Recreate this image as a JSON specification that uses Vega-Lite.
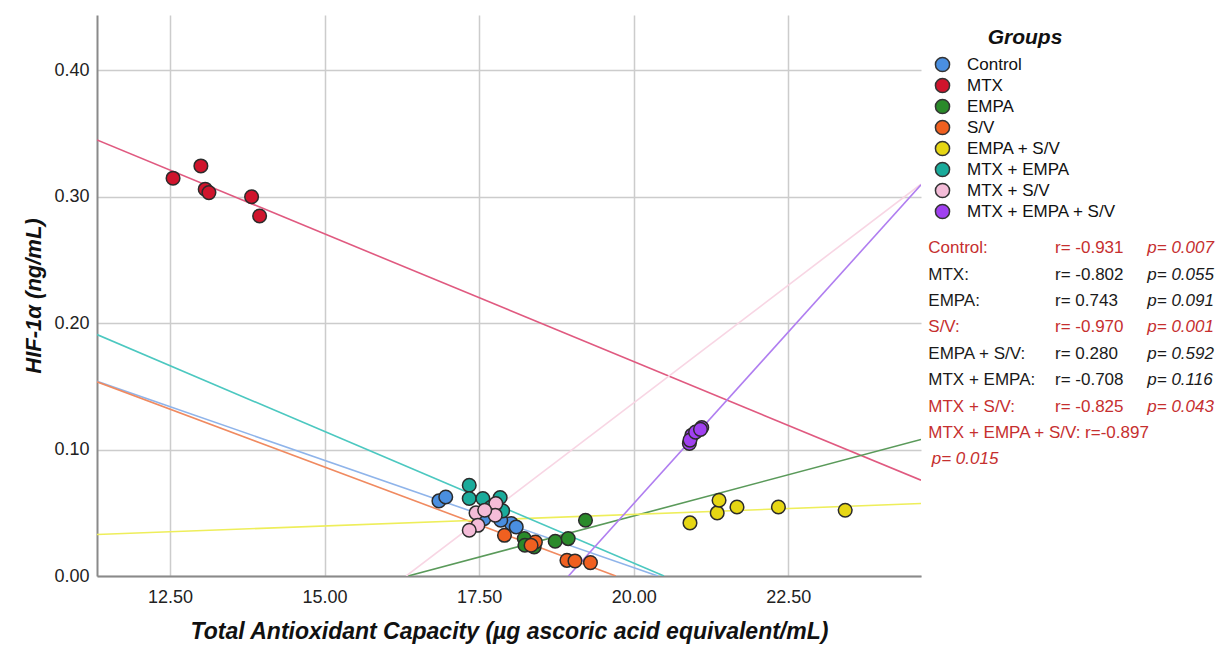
{
  "$schema": "https://vega.github.io/schema/vega-lite/v6.json",
  "width": 824,
  "height": 561,
  "autosize": "none",
  "padding": {"left": 97, "top": 15, "right": 305, "bottom": 79},
  "background": "white",
  "config": {
    "font": "Liberation Sans",
    "view": {"stroke": null},
    "axis": {
      "ticks": false,
      "grid": true,
      "gridColor": "#cccccc",
      "gridWidth": 1.5,
      "domainColor": "#8a8a8a",
      "domainWidth": 2,
      "labelFontSize": 18,
      "labelColor": "#222222",
      "titleFontSize": 22,
      "titleFontWeight": "bold",
      "titleFontStyle": "italic",
      "titleColor": "#111111"
    }
  },
  "datasets": {
    "points": [
      {"group": "Control", "tac": 16.85, "hif": 0.0594},
      {"group": "Control", "tac": 16.96, "hif": 0.0625},
      {"group": "Control", "tac": 17.58, "hif": 0.0454},
      {"group": "Control", "tac": 18.02, "hif": 0.0415},
      {"group": "Control", "tac": 18.10, "hif": 0.0388},
      {"group": "Control", "tac": 17.85, "hif": 0.0441},
      {"group": "MTX", "tac": 12.55, "hif": 0.3147},
      {"group": "MTX", "tac": 13.00, "hif": 0.3244},
      {"group": "MTX", "tac": 13.07, "hif": 0.3060},
      {"group": "MTX", "tac": 13.13, "hif": 0.3033},
      {"group": "MTX", "tac": 13.82, "hif": 0.3000},
      {"group": "MTX", "tac": 13.95, "hif": 0.2848},
      {"group": "EMPA", "tac": 19.22, "hif": 0.0441},
      {"group": "EMPA", "tac": 18.23, "hif": 0.0296},
      {"group": "EMPA", "tac": 18.24, "hif": 0.0243},
      {"group": "EMPA", "tac": 18.39, "hif": 0.0230},
      {"group": "EMPA", "tac": 18.73, "hif": 0.0275},
      {"group": "EMPA", "tac": 18.94, "hif": 0.0296},
      {"group": "S/V", "tac": 17.91, "hif": 0.0322},
      {"group": "S/V", "tac": 18.41, "hif": 0.0269},
      {"group": "S/V", "tac": 18.92, "hif": 0.0124},
      {"group": "S/V", "tac": 19.05, "hif": 0.0119},
      {"group": "S/V", "tac": 19.30, "hif": 0.0106},
      {"group": "S/V", "tac": 18.34, "hif": 0.0243},
      {"group": "EMPA + S/V", "tac": 20.91, "hif": 0.0420},
      {"group": "EMPA + S/V", "tac": 21.35, "hif": 0.0499},
      {"group": "EMPA + S/V", "tac": 21.38, "hif": 0.0599},
      {"group": "EMPA + S/V", "tac": 21.67, "hif": 0.0546},
      {"group": "EMPA + S/V", "tac": 22.34, "hif": 0.0546},
      {"group": "EMPA + S/V", "tac": 23.42, "hif": 0.0520},
      {"group": "MTX + EMPA", "tac": 17.34, "hif": 0.0718},
      {"group": "MTX + EMPA", "tac": 17.34, "hif": 0.0613},
      {"group": "MTX + EMPA", "tac": 17.56, "hif": 0.0613},
      {"group": "MTX + EMPA", "tac": 17.84, "hif": 0.0621},
      {"group": "MTX + EMPA", "tac": 17.88, "hif": 0.0515},
      {"group": "MTX + EMPA", "tac": 17.69, "hif": 0.0544},
      {"group": "MTX + S/V", "tac": 17.77, "hif": 0.0573},
      {"group": "MTX + S/V", "tac": 17.45, "hif": 0.0499},
      {"group": "MTX + S/V", "tac": 17.76, "hif": 0.0481},
      {"group": "MTX + S/V", "tac": 17.48, "hif": 0.0401},
      {"group": "MTX + S/V", "tac": 17.34, "hif": 0.0362},
      {"group": "MTX + S/V", "tac": 17.59, "hif": 0.0520},
      {"group": "MTX + EMPA + S/V", "tac": 20.90, "hif": 0.1048},
      {"group": "MTX + EMPA + S/V", "tac": 20.94, "hif": 0.1114},
      {"group": "MTX + EMPA + S/V", "tac": 21.10, "hif": 0.1175},
      {"group": "MTX + EMPA + S/V", "tac": 20.91, "hif": 0.1075},
      {"group": "MTX + EMPA + S/V", "tac": 21.00, "hif": 0.1138},
      {"group": "MTX + EMPA + S/V", "tac": 21.08, "hif": 0.1160}
    ],
    "fits": [
      {"group": "Control", "x1": 11.32, "y1": 0.154, "x2": 20.39, "y2": 0.0},
      {"group": "MTX", "x1": 11.32, "y1": 0.345, "x2": 24.646, "y2": 0.0758},
      {"group": "EMPA", "x1": 16.35, "y1": 0.0, "x2": 24.646, "y2": 0.108},
      {"group": "S/V", "x1": 11.32, "y1": 0.1536, "x2": 19.71, "y2": 0.0},
      {"group": "EMPA + S/V", "x1": 11.32, "y1": 0.0328, "x2": 24.646, "y2": 0.0573},
      {"group": "MTX + EMPA", "x1": 11.32, "y1": 0.191, "x2": 20.49, "y2": 0.0},
      {"group": "MTX + S/V", "x1": 16.32, "y1": 0.0, "x2": 24.646, "y2": 0.310},
      {"group": "MTX + EMPA + S/V", "x1": 18.945, "y1": 0.0, "x2": 24.646, "y2": 0.3095}
    ],
    "stats": [
      {"row": 1, "label": "Control:", "r": "r= -0.931", "p": "p= 0.007", "pw": "", "sig": true},
      {"row": 2, "label": "MTX:", "r": "r= -0.802", "p": "p= 0.055", "pw": "", "sig": false},
      {"row": 3, "label": "EMPA:", "r": " r= 0.743", "p": "p= 0.091", "pw": "", "sig": false},
      {"row": 4, "label": "S/V:", "r": "r= -0.970", "p": "p= 0.001", "pw": "", "sig": true},
      {"row": 5, "label": "EMPA + S/V:", "r": "r= 0.280", "p": "p= 0.592", "pw": "", "sig": false},
      {"row": 6, "label": "MTX + EMPA:", "r": "r= -0.708", "p": "p= 0.116", "pw": "", "sig": false},
      {"row": 7, "label": "MTX + S/V:", "r": "r= -0.825", "p": "p= 0.043", "pw": "", "sig": true},
      {"row": 8, "label": "MTX + EMPA + S/V: r=-0.897", "r": "", "p": "", "pw": "", "sig": true},
      {"row": 9, "label": "", "r": "", "p": "", "pw": "p= 0.015", "sig": true}
    ]
  },
  "layer": [
    {
      "layer": [
        {
          "data": {"name": "fits"},
          "mark": {"type": "rule", "clip": true, "strokeWidth": 1.6},
          "encoding": {
            "x": {
              "field": "x1", "type": "quantitative",
              "scale": {"domain": [11.32, 24.646], "nice": false, "zero": false},
              "axis": {
                "values": [12.5, 15, 17.5, 20, 22.5],
                "format": ".2f",
                "labelPadding": 12,
                "titlePadding": 14,
                "titleFontSize": 23,
                "title": "Total Antioxidant Capacity (µg ascoric acid equivalent/mL)"
              }
            },
            "y": {
              "field": "y1", "type": "quantitative",
              "scale": {"domain": [0, 0.4438], "nice": false, "zero": false},
              "axis": {
                "values": [0, 0.1, 0.2, 0.3, 0.4],
                "format": ".2f",
                "labelPadding": 8,
                "titlePadding": 8,
                "title": "HIF-1α (ng/mL)"
              }
            },
            "x2": {"field": "x2"},
            "y2": {"field": "y2"},
            "stroke": {
              "field": "group", "type": "nominal",
              "scale": {
                "range": ["#8fb4ea", "#5a9a5a", "#eeee5a", "#e05a80", "#4cc8c0", "#b07ef0", "#f8d6e4", "#f08a60"]
              },
              "legend": null
            }
          }
        },
        {
          "data": {"name": "points"},
          "mark": {"type": "circle", "size": 185, "stroke": "#2b2b2b", "strokeWidth": 1.5, "opacity": 1},
          "encoding": {
            "x": {"field": "tac", "type": "quantitative"},
            "y": {"field": "hif", "type": "quantitative"},
            "color": {
              "field": "group", "type": "nominal",
              "scale": {
                "domain": ["Control", "MTX", "EMPA", "S/V", "EMPA + S/V", "MTX + EMPA", "MTX + S/V", "MTX + EMPA + S/V"],
                "range": ["#4a8fe0", "#d0142c", "#2a8a2a", "#f06020", "#e6d614", "#1aab9b", "#f4bcd8", "#a040f0"]
              },
              "legend": {
                "title": "Groups",
                "orient": "none",
                "legendX": 837,
                "legendY": 12,
                "padding": 0,
                "titleFontSize": 21,
                "titleFontWeight": "bold",
                "titleFontStyle": "italic",
                "titleColor": "#111111",
                "titleAnchor": "middle",
                "titlePadding": 8,
                "labelFontSize": 17,
                "labelColor": "#111111",
                "labelOffset": 16,
                "symbolType": "circle",
                "symbolSize": 200,
                "symbolStrokeColor": "#333333",
                "symbolStrokeWidth": 1.5,
                "symbolOpacity": 1,
                "rowPadding": 0
              }
            }
          }
        }
      ]
    },
    {
      "data": {"name": "stats"},
      "encoding": {
        "y": {
          "field": "row", "type": "ordinal",
          "scale": {"type": "point", "range": [233.3, 444.3], "padding": 0},
          "axis": null
        }
      },
      "layer": [
        {
          "mark": {"type": "text", "align": "left", "baseline": "middle", "fontSize": 17},
          "encoding": {
            "x": {"datum": 24.764, "type": "quantitative"},
            "text": {"field": "label"},
            "fill": {"condition": {"test": "datum.sig", "value": "#c62f2f"}, "value": "#1a1a1a"}
          }
        },
        {
          "mark": {"type": "text", "align": "left", "baseline": "middle", "fontSize": 17},
          "encoding": {
            "x": {"datum": 26.813, "type": "quantitative"},
            "text": {"field": "r"},
            "fill": {"condition": {"test": "datum.sig", "value": "#c62f2f"}, "value": "#1a1a1a"}
          }
        },
        {
          "mark": {"type": "text", "align": "left", "baseline": "middle", "fontSize": 17, "fontStyle": "italic"},
          "encoding": {
            "x": {"datum": 28.306, "type": "quantitative"},
            "text": {"field": "p"},
            "fill": {"condition": {"test": "datum.sig", "value": "#c62f2f"}, "value": "#1a1a1a"}
          }
        },
        {
          "mark": {"type": "text", "align": "left", "baseline": "middle", "fontSize": 17, "fontStyle": "italic"},
          "encoding": {
            "x": {"datum": 24.82, "type": "quantitative"},
            "text": {"field": "pw"},
            "fill": {"condition": {"test": "datum.sig", "value": "#c62f2f"}, "value": "#1a1a1a"}
          }
        }
      ]
    }
  ],
  "resolve": {"scale": {"y": "independent"}}
}
